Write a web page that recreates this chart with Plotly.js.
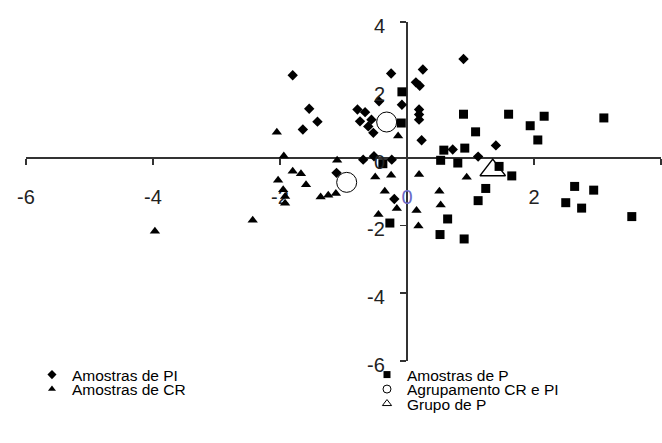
<!DOCTYPE html>
<html>
<head>
<meta charset="utf-8">
<script src="https://cdn.plot.ly/plotly-3.0.1.min.js"></script>
<style>html,body{margin:0;padding:0;background:#fff;}#chart{width:662px;height:443px;}</style>
</head>
<body>
<div id="chart"></div>
<script>
// Amostras de PI (diamonds)
const piX = [-1.80,-1.54,-1.41,-1.64,-0.25,0.25,0.14,0.20,0.89,-0.44,-0.08,0.19,0.19,0.19,-0.78,-0.66,-0.74,-0.56,-0.61,-0.53,0.23,1.40,1.12,0.72,-0.69,-0.52,-0.24,-1.11,-0.20];
const piY = [2.43,1.44,1.06,0.83,2.48,2.60,2.22,2.12,2.91,1.66,1.56,1.42,1.27,1.12,1.42,1.34,1.07,1.12,0.92,0.73,0.51,0.36,0.03,0.24,-0.06,0.04,-0.06,-0.45,-1.22];
// Amostras de CR (triangles)
const crX = [-2.05,-1.94,-1.80,-1.67,-1.59,-2.03,-1.95,-1.92,-1.92,-2.43,-3.97,-1.36,-1.24,-1.12,-1.10,-0.14,-0.50,-0.25,-0.35,-0.16,-0.45,0.19,0.15,0.18,0.51,0.53,0.94];
const crY = [0.75,0.05,-0.40,-0.48,-0.80,-0.67,-0.95,-1.15,-1.35,-1.85,-2.17,-1.16,-1.11,-1.06,-0.08,0.64,-0.57,-0.52,-0.99,-1.50,-1.68,-0.50,-1.56,-2.02,-0.99,-1.40,-0.58];
// Amostras de P (squares)
const pX = [-0.08,-0.09,0.89,1.60,2.16,3.10,1.94,2.06,1.08,0.91,0.58,0.53,0.80,1.45,1.65,1.24,1.12,0.64,0.52,0.90,-0.27,2.64,2.94,2.50,2.75,3.54,-0.38];
const pY = [1.94,1.02,1.28,1.28,1.22,1.17,0.94,0.52,0.76,0.28,0.22,-0.08,-0.16,-0.26,-0.54,-0.91,-1.27,-1.81,-2.27,-2.40,-1.93,-0.85,-0.96,-1.33,-1.49,-1.74,-0.18];
// Agrupamento CR e PI (open circles)
const agX = [-0.32,-0.95];
const agY = [1.05,-0.73];
// Grupo de P (open triangle)
const gpX = [1.35];
const gpY = [-0.37];

const tickVals = [-6,-4,-2,0,2,4];
const xTickText = ['-6','-4','-2','<span style="color:#6b6bc8">0</span>','2','4'];
const yTickText = ['-6','-4','-2','0','2','4'];
const names = ['Amostras de PI','Amostras de CR','Amostras de P','Agrupamento CR e PI','Grupo de P'];

const blk = '#000';
const traces = [
  {x: piX, y: piY, mode:'markers', showlegend:false, marker:{symbol:'diamond', size:8, color:blk}},
  {x: crX, y: crY, mode:'markers', showlegend:false, marker:{symbol:'triangle-up', size:9, color:blk}},
  {x: pX, y: pY, mode:'markers', showlegend:false, marker:{symbol:'square', size:9, color:blk}},
  {x: agX, y: agY, mode:'markers', showlegend:false, marker:{symbol:'circle-open', size:20, color:blk, line:{width:1}}},
  {x: gpX, y: gpY, mode:'markers', showlegend:false, marker:{symbol:'triangle-up-open', size:22, color:blk, line:{width:1.5}}},
  // legend entries
  {x:[null], y:[null], mode:'markers', name:names[0], legend:'legend', marker:{symbol:'diamond', size:7, color:blk}},
  {x:[null], y:[null], mode:'markers', name:names[1], legend:'legend2', marker:{symbol:'triangle-up', size:7, color:blk}},
  {x:[null], y:[null], mode:'markers', name:names[2], legend:'legend3', marker:{symbol:'square', size:7, color:blk}},
  {x:[null], y:[null], mode:'markers', name:names[3], legend:'legend4', marker:{symbol:'circle-open', size:8, color:blk, line:{width:1}}},
  {x:[null], y:[null], mode:'markers', name:names[4], legend:'legend5', marker:{symbol:'triangle-up-open', size:8, color:blk, line:{width:1}}}
];

const legFont = {family:'Liberation Sans, Arial, sans-serif', size:15.5, color:'#000'};
function leg(x, y){ return {x:x, y:y, xanchor:'left', yanchor:'middle', font:legFont, bgcolor:'rgba(0,0,0,0)', borderwidth:0}; }

const tickFont = {family:'Liberation Sans, Arial, sans-serif', size:20, color:'#222'};

// y tick labels placed at the y axis (x = 0) through the axes' own scales
const yLabels = tickVals.map((v, i) => ({
  x: 0, y: v, xref:'x', yref:'y', text: yTickText[i], showarrow:false,
  xanchor:'right', yanchor:'middle', xshift:-20, yshift:-4, font: tickFont
}));

const layout = {
  width:662, height:443,
  margin:{l:26, r:1, t:22, b:82},
  paper_bgcolor:'#fff', plot_bgcolor:'#fff',
  xaxis:{range:[-6,4], tickvals:tickVals, ticktext:xTickText, anchor:'free', position:0.6,
    showline:true, linecolor:'#333', linewidth:2, ticks:'outside', ticklen:6, tickwidth:1.5, tickcolor:'#333',
    showgrid:false, zeroline:false, tickfont:tickFont, ticklabelstandoff:15, layer:'below traces', fixedrange:true},
  yaxis:{range:[-6,4], tickvals:tickVals, anchor:'free', position:0.6, showticklabels:false,
    showline:true, linecolor:'#333', linewidth:2, ticks:'outside', ticklen:6, tickwidth:1.5, tickcolor:'#333',
    showgrid:false, zeroline:false, layer:'below traces', fixedrange:true},
  annotations: yLabels,
  legend: leg(0.0094, -0.0413),
  legend2: leg(0.0094, -0.0840),
  legend3: leg(0.537, -0.0413),
  legend4: leg(0.537, -0.0840),
  legend5: leg(0.537, -0.1268),
  showlegend:true
};
Plotly.newPlot('chart', traces, layout, {displayModeBar:false, staticPlot:true});
</script>
</body>
</html>
